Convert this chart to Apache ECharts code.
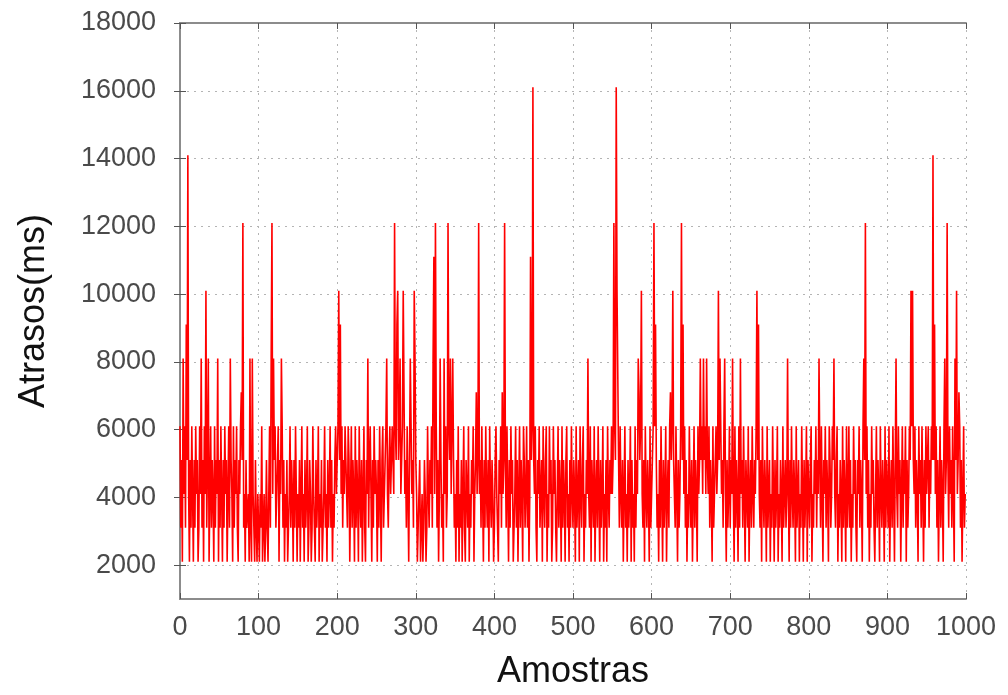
<!DOCTYPE html>
<html>
<head>
<meta charset="utf-8">
<title>Atrasos</title>
<script src="https://cdn.jsdelivr.net/npm/echarts@6/dist/echarts.min.js"></script>
<style>
    html, body { margin: 0; padding: 0; background: #fff; }
    #myChart { width: 1008px; height: 695px; }
</style>
</head>
<body>
<div id="myChart"></div>
<script>
// tick labels
var xTicks = [0, 100, 200, 300, 400, 500, 600, 700, 800, 900, 1000];
var yTicks = [2000, 4000, 6000, 8000, 10000, 12000, 14000, 16000, 18000];

// atraso (ms) de cada amostra
var delays = [
    6100,3100,5100,2100,8100,4100,6100,3100,9100,5100,
    14100,4100,2100,5100,3100,6100,4100,2100,5100,3100,
    6100,4100,5100,2100,3100,6100,4100,8100,3100,5100,
    2100,6100,4100,10100,3100,5100,8100,2100,4100,6100,
    3100,5100,4100,2100,6100,3100,5100,4100,8100,2100,
    5100,3100,6100,4100,2100,5100,3100,6100,4100,5100,
    2100,4100,6100,3100,8100,5100,4100,2100,6100,3100,
    5100,4100,6100,3100,2100,5100,4100,6100,7100,5100,
    12100,3100,4100,2100,5100,3100,3100,4100,2100,8100,
    3100,2100,8100,4100,3100,2100,5100,3100,2100,4100,
    3100,2100,4100,3100,6100,2100,3100,4100,2100,3100,
    5100,3100,2100,4100,6100,3100,8100,12100,4100,8100,
    5100,6100,3100,4100,5100,6100,2100,5100,4100,8100,
    6100,3100,5100,2100,4100,3100,5100,2100,3100,4100,
    6100,3100,5100,4100,2100,5100,3100,6100,4100,2100,
    4100,3100,5100,2100,4100,6100,3100,4100,2100,5100,
    3100,4100,6100,2100,3100,5100,4100,2100,3100,6100,
    4100,3100,2100,5100,3100,4100,6100,2100,4100,3100,
    5100,2100,3100,4100,6100,3100,4100,2100,5100,3100,
    4100,6100,3100,5100,2100,4100,3100,5100,6100,4100,
    5100,6100,10100,5100,9100,4100,6100,3100,5100,4100,
    6100,5100,4100,3100,6100,5100,2100,4100,6100,3100,
    5100,4100,2100,6100,3100,5100,4100,2100,6100,4100,
    3100,5100,2100,4100,6100,3100,2100,5100,4100,8100,
    3100,5100,6100,4100,2100,5100,3100,6100,4100,5100,
    4100,2100,5100,3100,6100,4100,2100,5100,6100,3100,
    4100,5100,6100,8100,4100,3100,5100,6100,4100,5100,
    6100,5100,4100,12100,6100,5100,9100,10100,5100,6100,
    8100,4100,5100,6100,10100,7100,4100,5100,3100,6100,
    4100,2100,5100,8100,6100,4100,5100,3100,10100,8100,
    5100,4100,2100,3100,4100,5100,2100,3100,4100,2100,
    3100,5100,4100,2100,3100,6100,4100,3100,5100,4100,
    6100,3100,8100,11100,4100,12100,6100,3100,5100,2100,
    4100,8100,5100,3100,4100,2100,8100,4100,6100,3100,
    4100,12100,6100,5100,8100,4100,6100,8100,5100,3100,
    4100,2100,5100,3100,6100,2100,4100,3100,5100,2100,
    4100,6100,3100,2100,5100,4100,3100,6100,2100,4100,
    3100,5100,4100,6100,2100,4100,5100,7100,4100,5100,
    12100,4100,5100,3100,6100,4100,2100,5100,3100,6100,
    4100,3100,5100,2100,6100,4100,3100,5100,4100,2100,
    3100,5100,6100,4100,3100,2100,5100,4100,6100,3100,
    7100,4100,5100,12100,5100,3100,6100,4100,2100,5100,
    3100,6100,4100,5100,2100,3100,4100,6100,3100,5100,
    2100,4100,6100,3100,5100,4100,2100,6100,5100,3100,
    4100,6100,3100,5100,2100,4100,11100,5100,6100,16100,
    5100,4100,6100,3100,2100,5100,4100,6100,3100,4100,
    5100,2100,6100,4100,3100,5100,6100,2100,4100,3100,
    6100,4100,5100,2100,3100,6100,4100,5100,3100,2100,
    4100,6100,3100,5100,4100,2100,6100,3100,5100,4100,
    2100,5100,6100,3100,4100,2100,5100,3100,6100,4100,
    3100,5100,4100,2100,6100,3100,4100,5100,2100,6100,
    4100,3100,5100,6100,2100,4100,3100,5100,4100,8100,
    4100,3100,6100,2100,5100,4100,3100,6100,2100,4100,
    5100,3100,6100,4100,2100,5100,3100,4100,6100,2100,
    4100,3100,5100,2100,6100,4100,3100,5100,4100,6100,
    4100,5100,12100,6100,5100,16100,10100,10100,5100,3100,
    6100,4100,3100,5100,2100,4100,6100,3100,4100,2100,
    5100,3100,4100,6100,2100,5100,3100,4100,2100,6100,
    3100,5100,4100,8100,7100,5100,6100,10100,4100,3100,
    5100,2100,6100,4100,3100,5100,4100,2100,6100,3100,
    4100,5100,6100,12100,6100,9100,5100,3100,4100,2100,
    5100,3100,6100,4100,2100,5100,3100,4100,6100,2100,
    4100,5100,3100,6100,7100,5100,6100,10100,5100,4100,
    3100,6100,4100,2100,5100,3100,4100,6100,12100,5100,
    9100,4100,6100,3100,5100,2100,4100,3100,6100,4100,
    3100,5100,2100,4100,6100,3100,5100,4100,2100,6100,
    4100,5100,8100,5100,6100,4100,8100,5100,6100,4100,
    8100,5100,4100,6100,3100,5100,4100,2100,6100,3100,
    4100,5100,6100,4100,5100,10100,5100,8100,6100,4100,
    5100,3100,6100,8100,4100,2100,5100,3100,4100,6100,
    3100,5100,4100,8100,4100,2100,6100,3100,5100,4100,
    2100,6100,3100,8100,4100,5100,3100,6100,4100,2100,
    5100,4100,3100,6100,2100,4100,5100,3100,6100,4100,
    3100,5100,4100,6100,10100,5100,9100,4100,3100,5100,
    2100,6100,4100,3100,5100,4100,2100,6100,3100,4100,
    5100,2100,4100,3100,6100,4100,2100,5100,3100,4100,
    6100,2100,4100,3100,5100,4100,2100,6100,3100,4100,
    5100,3100,4100,8100,4100,2100,5100,3100,6100,4100,
    3100,5100,4100,2100,6100,3100,4100,5100,2100,4100,
    3100,6100,4100,2100,5100,3100,4100,6100,2100,5100,
    4100,3100,5100,6100,2100,4100,3100,5100,4100,6100,
    3100,5100,4100,8100,5100,3100,6100,4100,2100,5100,
    4100,6100,3100,5100,4100,2100,6100,5100,3100,4100,
    6100,5100,8100,4100,3100,5100,6100,2100,4100,3100,
    5100,4100,2100,6100,3100,5100,4100,2100,6100,3100,
    4100,6100,3100,5100,2100,4100,3100,6100,4100,5100,
    3100,2100,5100,4100,6100,3100,5100,4100,2100,6100,
    8100,5100,12100,4100,6100,3100,5100,2100,4100,3100,
    6100,4100,5100,3100,2100,4100,6100,3100,5100,4100,
    2100,6100,4100,3100,5100,4100,2100,6100,3100,5100,
    4100,3100,6100,2100,4100,5100,3100,6100,4100,2100,
    5100,8100,4100,3100,6100,4100,5100,2100,4100,6100,
    3100,5100,4100,6100,2100,5100,3100,4100,6100,5100,
    10100,6100,10100,5100,4100,6100,3100,5100,4100,2100,
    6100,4100,5100,3100,6100,4100,2100,5100,3100,6100,
    4100,5100,6100,3100,5100,4100,6100,5100,14100,5100,
    9100,4100,6100,3100,5100,2100,4100,6100,3100,5100,
    4100,2100,6100,8100,4100,5100,12100,5100,3100,6100,
    4100,5100,3100,6100,4100,2100,8100,5100,10100,4100,
    5100,7100,6100,3100,5100,2100,4100,6100,3100,4100
];

var points = [];
for (var i = 0; i < delays.length; i++) {
    points.push([i, delays[i]]);
}

var axisGray = '#8c8c8c';
var tickColor = '#555';
var labelFont = 'Liberation Sans';
var plain = function (v) { return String(v); };

var myChart = echarts.init(document.getElementById('myChart'));
myChart.setOption({
    animation: false,
    backgroundColor: '#fff',
    grid: { left: 180, right: 42, top: 23, bottom: 92 },
    xAxis: [{
        type: 'value',
        min: xTicks[0],
        max: xTicks[xTicks.length - 1],
        interval: 100,
        name: 'Amostras',
        nameLocation: 'middle',
        nameGap: 55,
        nameTextStyle: { fontSize: 36, color: '#111', fontFamily: labelFont },
        axisLine: { lineStyle: { color: axisGray, width: 2 } },
        axisTick: { inside: true, length: 6, lineStyle: { color: tickColor } },
        axisLabel: { fontSize: 27, color: '#4a4a4a', margin: 15, fontFamily: labelFont, formatter: plain },
        splitLine: { show: true, lineStyle: { color: '#b4b4b4', type: [2, 5], width: 1 } }
    }, {
        type: 'value',
        position: 'top',
        min: xTicks[0],
        max: xTicks[xTicks.length - 1],
        interval: 100,
        axisLine: { lineStyle: { color: axisGray, width: 2 } },
        axisTick: { inside: true, length: 6, lineStyle: { color: tickColor } },
        axisLabel: { show: false },
        splitLine: { show: false }
    }],
    yAxis: [{
        type: 'value',
        min: 1000,
        max: yTicks[yTicks.length - 1],
        name: 'Atrasos(ms)',
        nameLocation: 'middle',
        nameGap: 128,
        nameTextStyle: { fontSize: 36, color: '#111', fontFamily: labelFont },
        axisLine: { lineStyle: { color: axisGray, width: 2 } },
        axisTick: { inside: true, length: 6, lineStyle: { color: tickColor }, customValues: yTicks },
        axisLabel: {
            fontSize: 27, color: '#4a4a4a', margin: 24, fontFamily: labelFont,
            customValues: yTicks, formatter: plain
        },
        splitLine: { show: true, lineStyle: { color: '#b4b4b4', type: [2, 5], width: 1 } }
    }, {
        type: 'value',
        position: 'right',
        min: 1000,
        max: yTicks[yTicks.length - 1],
        axisLine: { show: true, lineStyle: { color: axisGray, width: 2 } },
        axisTick: { show: true, inside: true, length: 6, lineStyle: { color: tickColor }, customValues: yTicks },
        axisLabel: { show: false },
        splitLine: { show: false }
    }],
    series: [{
        type: 'line',
        data: points,
        xAxisIndex: 0,
        yAxisIndex: 0,
        symbol: 'none',
        lineStyle: { color: '#ff0000', width: 1.6 },
        itemStyle: { color: '#ff0000' }
    }]
});
</script>
</body>
</html>
